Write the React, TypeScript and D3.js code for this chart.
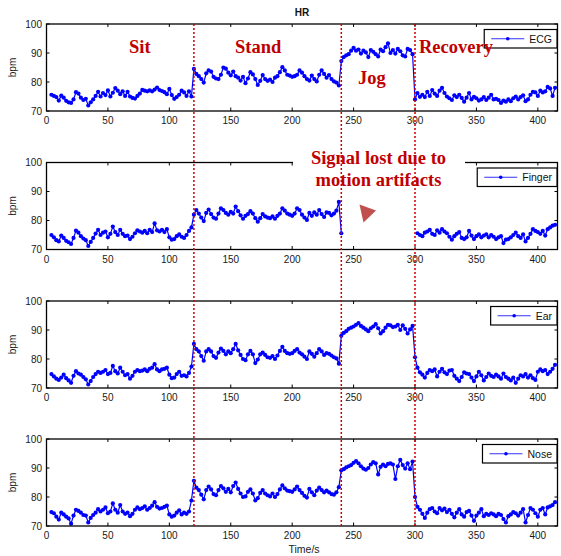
import React, { useEffect, useRef } from "react";
import * as d3 from "d3";

// sampling step (s) used when reading the traces
const STEP = 2;

const xTicks = [0, 50, 100, 150, 200, 250, 300, 350, 400];
const yTicks = [70, 80, 90, 100];
const phaseBounds = [120, 240, 300];

// ECG
const ecgSit = [
  75.6, 75.2, 74.8, 73.6, 75.3, 74.6, 73.5, 73.0, 72.8, 74.0,
  76.5, 76.0, 74.6, 73.8, 74.2, 71.9, 73.0, 74.0, 75.2, 76.6,
  75.0, 76.2, 75.5, 77.1, 75.0, 76.3, 77.9, 77.0, 75.8, 76.8,
  75.2, 76.6, 75.0, 74.5, 74.3, 75.2, 76.0, 77.3, 77.0, 76.8,
  77.1, 76.8, 77.4, 78.1, 77.2, 76.9, 76.5, 75.8, 77.6, 75.5,
  74.2, 74.8, 75.6, 77.0, 76.4, 75.2, 76.8, 75.0,
];
const ecgStand = [
  84.5, 82.8, 82.0, 81.0, 79.8, 83.0, 84.0, 83.6, 81.8, 81.2,
  81.0, 82.5, 85.0, 84.6, 83.2, 82.3, 83.6, 82.0, 81.5, 80.5,
  81.8, 79.6, 81.2, 83.4, 82.6, 81.0, 79.0, 80.4, 82.4, 81.0,
  80.4, 80.8, 80.0, 81.5, 82.0, 83.4, 85.1, 84.0, 82.5, 82.2,
  81.8, 82.0, 82.5, 84.0, 83.2, 82.0, 81.0, 80.5, 82.2, 81.0,
  80.2, 82.5, 84.0, 82.8, 81.5, 82.4, 81.0, 80.2, 79.8, 78.8,
];
const ecgJog = [
  87.2, 88.6, 89.2, 89.6, 90.8, 91.8, 90.8, 91.2, 89.8, 90.8,
  90.2, 88.6, 91.0, 90.4, 89.6, 88.8, 91.2, 90.6, 92.0, 93.3,
  90.0, 91.0, 89.8, 91.4, 90.6, 89.2, 88.8, 91.4, 91.0, 89.6,
];
const ecgRecovery = [
  74.0, 76.2, 74.9, 75.6, 74.8, 76.6, 75.2, 77.2, 76.0, 75.2,
  77.0, 78.0, 76.2, 75.0, 74.4, 73.8, 75.4, 74.8, 75.6, 74.5,
  73.2, 74.6, 76.2, 74.0, 74.9, 74.4, 73.6, 74.0, 74.8, 73.8,
  74.6, 75.6, 74.0, 74.2, 73.8, 72.8, 73.6, 73.2, 74.0, 73.4,
  74.4, 75.0, 74.0, 74.8, 75.4, 73.4, 74.0, 75.6, 76.6, 76.4,
  75.2, 77.0, 76.4, 76.8, 78.3, 77.8, 75.2, 78.0,
];

// Finger (signal lost during jogging)
const fingerSit = [
  75.0, 74.2, 73.2, 72.8, 74.8, 74.0, 73.0, 72.5, 71.9, 74.0,
  76.5, 75.8, 74.6, 73.8, 73.2, 71.2, 72.6, 74.0, 75.5, 76.8,
  75.0, 75.8, 76.2, 74.2, 75.4, 77.9, 76.0, 75.0, 76.8, 75.4,
  74.6, 74.8, 73.6, 74.4, 75.6, 76.6, 76.2, 75.8, 76.4, 75.6,
  76.8, 76.0, 79.0, 76.6, 76.2, 76.8, 76.0, 77.0, 74.2, 73.4,
  73.6, 74.6, 75.2, 74.4, 74.0, 75.0, 76.4, 77.6,
];
const fingerStand = [
  82.0, 83.6, 82.4, 81.0, 79.8, 82.6, 83.8, 82.2, 81.0, 80.6,
  82.4, 84.2, 83.6, 82.6, 82.0, 83.0, 82.4, 84.8, 83.2, 81.8,
  80.6, 81.6, 82.2, 83.2, 82.4, 80.8, 79.6, 80.8, 82.2, 81.4,
  81.0, 80.8, 81.4, 80.6, 81.6, 82.4, 84.2, 83.4, 82.4, 82.0,
  81.6, 82.4, 84.2, 83.6, 82.0, 81.0, 80.2, 82.6, 81.6, 82.8,
  82.0, 83.6, 82.2, 81.2, 82.8, 82.6, 81.8, 82.4, 83.4, 86.4,
];
const fingerJog = [75.6];
const fingerRecovery = [
  75.6, 75.0, 74.6, 75.8, 76.2, 76.8, 75.4, 75.0, 76.6, 75.8,
  77.0, 76.2, 75.6, 74.4, 73.4, 74.6, 75.4, 76.0, 74.0, 73.6,
  74.2, 76.4, 74.8, 73.6, 74.6, 75.2, 74.2, 74.8, 75.2, 74.2,
  75.0, 74.4, 73.6, 74.2, 74.6, 72.2, 73.4, 73.6, 74.2, 75.0,
  75.8, 74.6, 74.0, 75.2, 72.8, 74.0, 75.4, 77.0, 76.4, 76.0,
  75.4, 76.4, 74.8, 77.0, 77.6, 78.2, 78.5,
];

// Ear
const earSit = [
  74.8, 74.0, 73.2, 72.8, 73.6, 74.6, 73.4, 72.6, 71.8, 74.2,
  75.8, 75.0, 74.6, 73.8, 73.0, 71.2, 72.4, 73.8, 74.8, 75.6,
  75.2, 75.6, 76.2, 74.8, 75.2, 77.6, 75.8, 75.0, 77.0, 75.6,
  74.4, 74.8, 73.2, 74.2, 75.6, 76.2, 75.8, 76.0, 76.4, 75.8,
  76.6, 77.0, 78.2, 76.4, 75.8, 76.4, 76.6, 77.0, 74.6, 73.4,
  73.6, 74.8, 75.6, 74.2, 74.4, 74.0, 75.2, 77.4,
];
const earStand = [
  85.2, 83.4, 82.6, 81.0, 79.4, 82.6, 83.4, 82.6, 81.0, 80.4,
  82.2, 83.6, 82.8, 81.6, 82.6, 82.0, 83.4, 85.2, 83.0, 81.4,
  80.0, 79.6, 81.6, 82.8, 81.6, 78.6, 79.8, 81.6, 82.2, 81.4,
  80.6, 80.4, 81.0, 80.0, 81.2, 82.8, 84.2, 82.8, 82.0, 81.8,
  82.0, 82.8, 83.4, 82.2, 81.6, 80.8, 80.0, 82.6, 81.8, 80.8,
  82.0, 83.4, 82.6, 81.4, 82.0, 81.8, 81.2, 80.6, 80.2, 78.4,
];
const earJog = [
  88.0, 89.0, 89.6, 90.4, 90.8, 91.2, 91.8, 92.4, 91.4, 90.8,
  90.2, 89.6, 90.6, 91.2, 92.0, 90.6, 88.8, 89.6, 90.8, 91.8,
  91.6, 91.0, 91.2, 91.8, 90.0, 91.6, 90.4, 88.8, 90.2, 91.4,
];
const earRecovery = [
  80.6, 77.0, 75.4, 74.6, 73.6, 75.2, 76.2, 75.8, 76.4, 74.0,
  75.6, 76.6, 75.4, 74.8, 76.0, 76.2, 74.2, 73.2, 72.4, 73.8,
  75.4, 75.0, 74.8, 73.6, 72.4, 74.0, 75.6, 74.4, 72.6, 73.8,
  75.0, 74.2, 73.8, 74.6, 74.0, 73.2, 75.0, 73.8, 73.2, 72.6,
  73.6, 71.8, 73.2, 74.4, 74.0, 74.8, 73.6, 74.4, 73.4, 72.8,
  75.6, 76.4, 75.8, 76.2, 74.8, 75.6, 76.6, 78.0,
];

// Nose
const noseSit = [
  74.8, 74.4, 73.2, 72.2, 74.6, 74.0, 73.2, 72.6, 70.8, 73.6,
  75.6, 75.2, 74.6, 73.8, 73.6, 71.2, 72.8, 73.8, 74.6, 75.8,
  75.0, 75.6, 76.4, 74.4, 75.0, 77.8, 75.6, 74.6, 77.2, 75.0,
  74.2, 74.6, 73.4, 74.2, 75.6, 76.4, 75.8, 76.2, 76.8, 75.6,
  76.2, 77.0, 78.2, 76.6, 76.0, 76.2, 76.6, 77.0, 74.0, 73.2,
  73.6, 74.6, 75.4, 74.0, 74.6, 74.2, 75.0, 78.8,
];
const noseStand = [
  85.6, 83.2, 82.4, 80.8, 79.2, 82.4, 83.6, 82.6, 81.0, 80.6,
  82.4, 83.8, 83.0, 81.8, 82.8, 81.6, 83.8, 85.0, 82.8, 81.2,
  80.0, 80.2, 81.8, 82.6, 81.2, 78.8, 79.6, 81.4, 82.4, 81.2,
  80.6, 80.2, 81.2, 80.0, 81.0, 82.6, 84.0, 83.0, 82.2, 82.0,
  81.8, 82.6, 83.6, 82.4, 81.4, 80.4, 79.8, 82.8, 81.6, 80.6,
  82.2, 83.2, 82.4, 81.6, 82.2, 81.6, 81.0, 80.8, 81.6, 83.4,
];
const noseJog = [
  89.2, 89.6, 90.2, 90.6, 91.0, 91.8, 92.4, 91.6, 90.6, 89.8,
  89.4, 90.0, 91.2, 92.0, 91.6, 87.8, 90.4, 91.2, 90.6, 91.4,
  91.6, 91.2, 86.2, 90.6, 92.8, 91.0, 89.8, 91.6, 89.6, 92.2,
];
const noseRecovery = [
  80.0, 76.6, 75.6, 74.2, 72.8, 74.6, 75.8, 76.2, 75.0, 74.4,
  76.2, 75.4, 76.0, 74.8, 75.6, 74.2, 73.0, 74.6, 75.8, 74.0,
  73.2, 74.8, 75.2, 73.6, 71.8, 73.6, 74.6, 75.8, 73.4, 74.2,
  73.8, 74.4, 74.0, 73.4, 74.2, 73.8, 72.4, 71.2, 73.4, 74.0,
  74.8, 74.4, 73.6, 74.6, 75.8, 71.2, 73.8, 76.2, 75.6, 74.4,
  73.2, 75.6, 76.2, 74.0, 76.4, 76.8, 77.2, 78.2,
];

// [start time, values] per phase
const sensors: { name: string; segments: [number, number[]][] }[] = [
  { name: "ECG", segments: [[4, ecgSit], [120, ecgStand], [240, ecgJog], [300, ecgRecovery]] },
  { name: "Finger", segments: [[4, fingerSit], [120, fingerStand], [240, fingerJog], [302, fingerRecovery]] },
  { name: "Ear", segments: [[4, earSit], [120, earStand], [240, earJog], [300, earRecovery]] },
  { name: "Nose", segments: [[4, noseSit], [120, noseStand], [240, noseJog], [300, noseRecovery]] },
];

const SANS = "'Liberation Sans', Arial, Helvetica, sans-serif";
const SERIF = "'Liberation Serif', 'Times New Roman', serif";
const RED = "#c00000";

export default function App() {
  const ref = useRef<SVGSVGElement>(null);

  useEffect(() => {
    const svg = d3.select(ref.current);
    svg.selectAll("*").remove();

    const width = 561;
    const panelH = 87;
    const tops = [24, 162.5, 301, 439];
    const left = 46.5;
    const right = 557.5;

    const x = d3.scaleLinear().domain([0, 416]).range([left, right]);

    svg.append("rect").attr("width", width).attr("height", 556).attr("fill", "#fff");

    sensors.forEach((s, i) => {
      const top = tops[i];
      const y = d3.scaleLinear().domain([70, 100]).range([top + panelH, top]);
      const g = svg.append("g");

      // flatten the phases, break the line where samples are missing
      const pts: { t: number; v: number }[] = [];
      s.segments.forEach(([start, vals]) => {
        vals.forEach((v, j) => {
          const t = start + STEP * j;
          const prev = pts[pts.length - 1];
          if (prev && t - prev.t > STEP * 1.5) pts.push({ t, v: NaN });
          pts.push({ t, v });
        });
      });
      const good = pts.filter((d) => !isNaN(d.v));

      const line = d3
        .line<{ t: number; v: number }>()
        .defined((d) => !isNaN(d.v))
        .x((d) => x(d.t))
        .y((d) => y(d.v));

      g.append("path")
        .attr("d", line(pts) as string)
        .attr("fill", "none")
        .attr("stroke", "#0000ff")
        .attr("stroke-width", 1.2);

      g.selectAll("circle.pt")
        .data(good)
        .enter()
        .append("circle")
        .attr("class", "pt")
        .attr("cx", (d) => x(d.t))
        .attr("cy", (d) => y(d.v))
        .attr("r", 2.1)
        .attr("fill", "#0000ff");

      // frame and ticks
      g.append("rect")
        .attr("x", left)
        .attr("y", top)
        .attr("width", right - left)
        .attr("height", panelH)
        .attr("fill", "none")
        .attr("stroke", "#000")
        .attr("stroke-width", 1.3);

      xTicks.forEach((t) => {
        g.append("line").attr("x1", x(t)).attr("x2", x(t)).attr("y1", top).attr("y2", top + 3)
          .attr("stroke", "#000").attr("stroke-width", 1);
        g.append("line").attr("x1", x(t)).attr("x2", x(t)).attr("y1", top + panelH).attr("y2", top + panelH - 3.5)
          .attr("stroke", "#000").attr("stroke-width", 1);
        g.append("text")
          .attr("x", x(t))
          .attr("y", top + panelH + 13)
          .attr("text-anchor", "middle")
          .attr("font-family", SANS)
          .attr("font-size", 10)
          .attr("fill", "#1a1a1a")
          .text(t);
      });

      yTicks.forEach((v) => {
        g.append("line").attr("x1", left).attr("x2", left + 3).attr("y1", y(v)).attr("y2", y(v))
          .attr("stroke", "#000").attr("stroke-width", 1);
        g.append("line").attr("x1", right).attr("x2", right - 3).attr("y1", y(v)).attr("y2", y(v))
          .attr("stroke", "#000").attr("stroke-width", 1);
        g.append("text")
          .attr("x", 42)
          .attr("y", y(v))
          .attr("dy", "0.36em")
          .attr("text-anchor", "end")
          .attr("font-family", SANS)
          .attr("font-size", 10)
          .attr("fill", "#1a1a1a")
          .text(v);
      });

      g.append("text")
        .attr("transform", `translate(16,${top + panelH / 2}) rotate(-90)`)
        .attr("text-anchor", "middle")
        .attr("font-family", SANS)
        .attr("font-size", 10)
        .attr("fill", "#1a1a1a")
        .text("bpm");

      // legend
      const lg = g.append("g");
      const lgTop = top + 5.5;
      const lgH = 18.5;
      const box = lg.append("rect");
      const label = lg
        .append("text")
        .attr("y", lgTop + lgH / 2)
        .attr("dy", "0.36em")
        .attr("font-family", SANS)
        .attr("font-size", 10.5)
        .attr("fill", "#111")
        .text(s.name);
      const tw = (label.node() as SVGTextElement).getComputedTextLength();
      const lgLeft = right - 0.5 - (tw + 50);
      label.attr("x", lgLeft + 45);
      box
        .attr("x", lgLeft)
        .attr("y", lgTop)
        .attr("width", tw + 50)
        .attr("height", lgH)
        .attr("fill", "#fff")
        .attr("stroke", "#000")
        .attr("stroke-width", 1.2);
      lg.append("line")
        .attr("x1", lgLeft + 7)
        .attr("x2", lgLeft + 40)
        .attr("y1", lgTop + lgH / 2)
        .attr("y2", lgTop + lgH / 2)
        .attr("stroke", "#3333ff")
        .attr("stroke-width", 1.2);
      lg.append("circle")
        .attr("cx", lgLeft + 23.5)
        .attr("cy", lgTop + lgH / 2)
        .attr("r", 1.8)
        .attr("fill", "#0000ff");
    });

    // title and x label
    svg.append("text")
      .attr("x", 302)
      .attr("y", 16)
      .attr("text-anchor", "middle")
      .attr("font-family", SANS)
      .attr("font-weight", "bold")
      .attr("font-size", 10)
      .attr("fill", "#111")
      .text("HR");

    svg.append("text")
      .attr("x", 304)
      .attr("y", 553)
      .attr("text-anchor", "middle")
      .attr("font-family", SANS)
      .attr("font-size", 10.5)
      .attr("fill", "#1a1a1a")
      .text("Time/s");

    // phase annotations
    const phaseText = [
      { text: "Sit", x: 129, y: 52.5 },
      { text: "Stand", x: 235, y: 52.5 },
      { text: "Jog", x: 358, y: 84 },
      { text: "Recovery", x: 419, y: 52.5 },
    ];
    phaseText.forEach((p) => {
      svg.append("text")
        .attr("x", p.x)
        .attr("y", p.y)
        .attr("font-family", SERIF)
        .attr("font-weight", "bold")
        .attr("font-size", 18.5)
        .attr("fill", RED)
        .text(p.text);
    });

    // note over the finger panel
    svg.append("rect")
      .attr("x", 293)
      .attr("y", 147)
      .attr("width", 172)
      .attr("height", 44)
      .attr("fill", "#fff");
    ["Signal lost due to", "motion artifacts"].forEach((t, k) => {
      svg.append("text")
        .attr("x", 378.5)
        .attr("y", 164 + k * 21.5)
        .attr("text-anchor", "middle")
        .attr("font-family", SERIF)
        .attr("font-weight", "bold")
        .attr("font-size", 18.5)
        .attr("fill", RED)
        .text(t);
    });
    svg.append("polygon")
      .attr("points", "359.5,204.5 376,210.5 363.5,222.5")
      .attr("fill", "#c0504d");

    // phase boundaries
    phaseBounds.forEach((t) => {
      svg.append("line")
        .attr("x1", x(t))
        .attr("x2", x(t))
        .attr("y1", tops[0])
        .attr("y2", tops[3] + panelH)
        .attr("stroke", "#cc0000")
        .attr("stroke-width", 1.5)
        .attr("stroke-dasharray", "2,2");
    });
  }, []);

  return (
    <svg
      ref={ref}
      width={561}
      height={556}
      style={{ position: "absolute", left: 0, top: 0, display: "block" }}
    />
  );
}
